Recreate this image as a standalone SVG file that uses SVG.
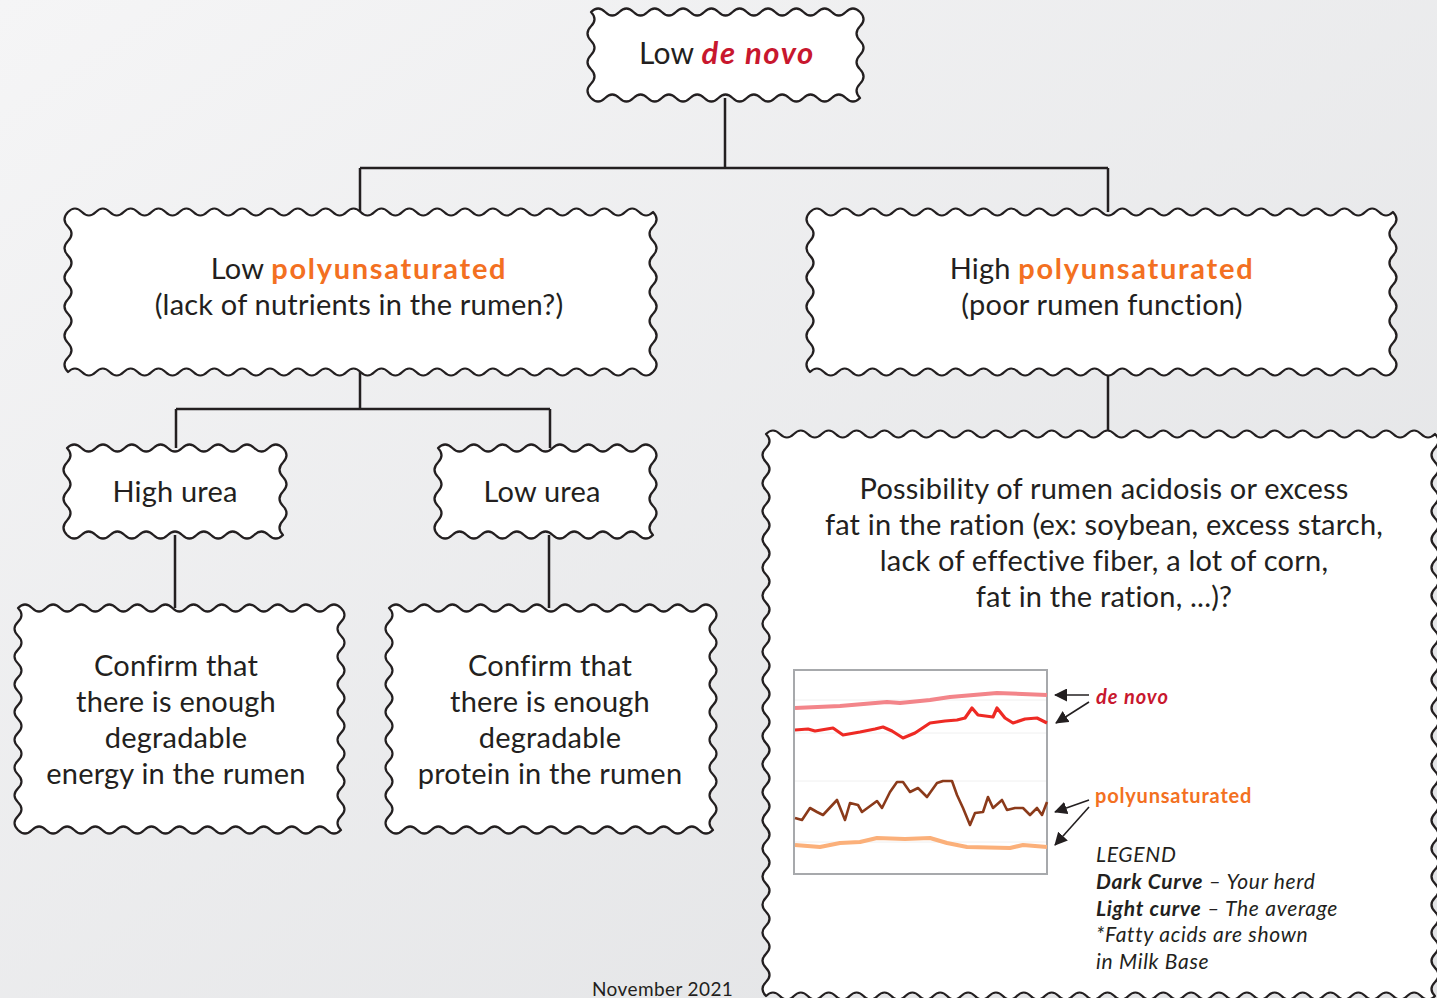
<svg xmlns="http://www.w3.org/2000/svg" width="1437" height="998" viewBox="0 0 1437 998">
<defs>
<linearGradient id="bg" x1="0" y1="0" x2="1" y2="1">
<stop offset="0" stop-color="#f5f5f6"/>
<stop offset="1" stop-color="#e1e2e4"/>
</linearGradient>
<marker id="ah" markerUnits="userSpaceOnUse" markerWidth="13" markerHeight="13" viewBox="0 0 13 13" refX="12" refY="6.5" orient="auto">
<path d="M0,0 L13,6.5 L0,13 z" fill="#231f20"/>
</marker>
</defs>
<style>
.box{fill:#fff;stroke:#231f20;stroke-width:2.2;stroke-linejoin:round}
.conn{fill:none;stroke:#231f20;stroke-width:2.5}
.t{font-family:Lato,"Open Sans",sans-serif;font-size:29px;fill:#231f20;text-anchor:middle;letter-spacing:0.2px}
.red{fill:#c8172e;font-weight:bold;font-style:italic;letter-spacing:1.6px}
.org{fill:#f37021;font-weight:bold;letter-spacing:1.7px}
.lg{font-family:Lato,"Open Sans",sans-serif;font-size:21px;fill:#231f20;font-style:italic;letter-spacing:0.7px}
.arr{stroke:#231f20;stroke-width:1.6;fill:none;marker-end:url(#ah)}
.grid{stroke:#f0f0f0;stroke-width:1}
</style>
<rect width="1437" height="998" fill="url(#bg)"/>

<g id="connectors">
<path class="conn" d="M725,98 V168 M360,168 H1108 M360,168 V212 M1108,168 V212"/>
<path class="conn" d="M360,372 V409 M176,409 H550 M176,409 V448 M550,409 V448"/>
<path class="conn" d="M175,535 V608 M549,535 V608"/>
<path class="conn" d="M1108,372 V434"/>
</g>

<g id="node-low-denovo">
<path class="box" d="M591,12 q7.08,-7 14.16,0 t14.16,0 t14.16,0 t14.16,0 t14.16,0 t14.16,0 t14.16,0 t14.16,0 t14.16,0 t14.16,0 t14.16,0 t14.16,0 t14.16,0 t14.16,0 t14.16,0 t14.16,0 t14.16,0 t14.16,0 t14.16,0 q7,7.17 0,14.33 t0,14.33 t0,14.33 t0,14.33 t0,14.33 t0,14.33 q-7.08,7 -14.16,0 t-14.16,0 t-14.16,0 t-14.16,0 t-14.16,0 t-14.16,0 t-14.16,0 t-14.16,0 t-14.16,0 t-14.16,0 t-14.16,0 t-14.16,0 t-14.16,0 t-14.16,0 t-14.16,0 t-14.16,0 t-14.16,0 t-14.16,0 t-14.16,0 q-7,-7.17 0,-14.33 t0,-14.33 t0,-14.33 t0,-14.33 t0,-14.33 t0,-14.33 z"/>
<text class="t" x="727" y="64" style="font-size:30px">Low <tspan class="red" style="font-size:31px">de novo</tspan></text>
</g>

<g id="node-low-poly">
<path class="box" d="M68,212 q6.965,-7 13.93,0 t13.93,0 t13.93,0 t13.93,0 t13.93,0 t13.93,0 t13.93,0 t13.93,0 t13.93,0 t13.93,0 t13.93,0 t13.93,0 t13.93,0 t13.93,0 t13.93,0 t13.93,0 t13.93,0 t13.93,0 t13.93,0 t13.93,0 t13.93,0 t13.93,0 t13.93,0 t13.93,0 t13.93,0 t13.93,0 t13.93,0 t13.93,0 t13.93,0 t13.93,0 t13.93,0 t13.93,0 t13.93,0 t13.93,0 t13.93,0 t13.93,0 t13.93,0 t13.93,0 t13.93,0 t13.93,0 t13.93,0 t13.93,0 q7,7.27 0,14.545 t0,14.545 t0,14.545 t0,14.545 t0,14.545 t0,14.545 t0,14.545 t0,14.545 t0,14.545 t0,14.545 t0,14.545 q-6.965,7 -13.93,0 t-13.93,0 t-13.93,0 t-13.93,0 t-13.93,0 t-13.93,0 t-13.93,0 t-13.93,0 t-13.93,0 t-13.93,0 t-13.93,0 t-13.93,0 t-13.93,0 t-13.93,0 t-13.93,0 t-13.93,0 t-13.93,0 t-13.93,0 t-13.93,0 t-13.93,0 t-13.93,0 t-13.93,0 t-13.93,0 t-13.93,0 t-13.93,0 t-13.93,0 t-13.93,0 t-13.93,0 t-13.93,0 t-13.93,0 t-13.93,0 t-13.93,0 t-13.93,0 t-13.93,0 t-13.93,0 t-13.93,0 t-13.93,0 t-13.93,0 t-13.93,0 t-13.93,0 t-13.93,0 t-13.93,0 q-7,-7.27 0,-14.545 t0,-14.545 t0,-14.545 t0,-14.545 t0,-14.545 t0,-14.545 t0,-14.545 t0,-14.545 t0,-14.545 t0,-14.545 t0,-14.545 z"/>
<text class="t" x="359" y="279">Low <tspan class="org">polyunsaturated</tspan></text>
<text class="t" x="359" y="315">(lack of nutrients in the rumen?)</text>
</g>

<g id="node-high-poly">
<path class="box" d="M810,212 q6.94,-7 13.88,0 t13.88,0 t13.88,0 t13.88,0 t13.88,0 t13.88,0 t13.88,0 t13.88,0 t13.88,0 t13.88,0 t13.88,0 t13.88,0 t13.88,0 t13.88,0 t13.88,0 t13.88,0 t13.88,0 t13.88,0 t13.88,0 t13.88,0 t13.88,0 t13.88,0 t13.88,0 t13.88,0 t13.88,0 t13.88,0 t13.88,0 t13.88,0 t13.88,0 t13.88,0 t13.88,0 t13.88,0 t13.88,0 t13.88,0 t13.88,0 t13.88,0 t13.88,0 t13.88,0 t13.88,0 t13.88,0 t13.88,0 t13.88,0 q7,7.27 0,14.545 t0,14.545 t0,14.545 t0,14.545 t0,14.545 t0,14.545 t0,14.545 t0,14.545 t0,14.545 t0,14.545 t0,14.545 q-6.94,7 -13.88,0 t-13.88,0 t-13.88,0 t-13.88,0 t-13.88,0 t-13.88,0 t-13.88,0 t-13.88,0 t-13.88,0 t-13.88,0 t-13.88,0 t-13.88,0 t-13.88,0 t-13.88,0 t-13.88,0 t-13.88,0 t-13.88,0 t-13.88,0 t-13.88,0 t-13.88,0 t-13.88,0 t-13.88,0 t-13.88,0 t-13.88,0 t-13.88,0 t-13.88,0 t-13.88,0 t-13.88,0 t-13.88,0 t-13.88,0 t-13.88,0 t-13.88,0 t-13.88,0 t-13.88,0 t-13.88,0 t-13.88,0 t-13.88,0 t-13.88,0 t-13.88,0 t-13.88,0 t-13.88,0 t-13.88,0 q-7,-7.27 0,-14.545 t0,-14.545 t0,-14.545 t0,-14.545 t0,-14.545 t0,-14.545 t0,-14.545 t0,-14.545 t0,-14.545 t0,-14.545 t0,-14.545 z"/>
<text class="t" x="1102" y="279">High <tspan class="org">polyunsaturated</tspan></text>
<text class="t" x="1102" y="315">(poor rumen function)</text>
</g>

<g id="node-high-urea">
<path class="box" d="M67,448 q7.2,-7 14.4,0 t14.4,0 t14.4,0 t14.4,0 t14.4,0 t14.4,0 t14.4,0 t14.4,0 t14.4,0 t14.4,0 t14.4,0 t14.4,0 t14.4,0 t14.4,0 t14.4,0 q7,7.25 0,14.5 t0,14.5 t0,14.5 t0,14.5 t0,14.5 t0,14.5 q-7.2,7 -14.4,0 t-14.4,0 t-14.4,0 t-14.4,0 t-14.4,0 t-14.4,0 t-14.4,0 t-14.4,0 t-14.4,0 t-14.4,0 t-14.4,0 t-14.4,0 t-14.4,0 t-14.4,0 t-14.4,0 q-7,-7.25 0,-14.5 t0,-14.5 t0,-14.5 t0,-14.5 t0,-14.5 t0,-14.5 z"/>
<text class="t" x="175" y="502">High urea</text>
</g>

<g id="node-low-urea">
<path class="box" d="M438,448 q7.167,-7 14.333,0 t14.333,0 t14.333,0 t14.333,0 t14.333,0 t14.333,0 t14.333,0 t14.333,0 t14.333,0 t14.333,0 t14.333,0 t14.333,0 t14.333,0 t14.333,0 t14.333,0 q7,7.25 0,14.5 t0,14.5 t0,14.5 t0,14.5 t0,14.5 t0,14.5 q-7.167,7 -14.333,0 t-14.333,0 t-14.333,0 t-14.333,0 t-14.333,0 t-14.333,0 t-14.333,0 t-14.333,0 t-14.333,0 t-14.333,0 t-14.333,0 t-14.333,0 t-14.333,0 t-14.333,0 t-14.333,0 q-7,-7.25 0,-14.5 t0,-14.5 t0,-14.5 t0,-14.5 t0,-14.5 t0,-14.5 z"/>
<text class="t" x="542" y="502">Low urea</text>
</g>

<g id="node-energy">
<path class="box" d="M18,608 q7.02,-7 14.043,0 t14.043,0 t14.043,0 t14.043,0 t14.043,0 t14.043,0 t14.043,0 t14.043,0 t14.043,0 t14.043,0 t14.043,0 t14.043,0 t14.043,0 t14.043,0 t14.043,0 t14.043,0 t14.043,0 t14.043,0 t14.043,0 t14.043,0 t14.043,0 t14.043,0 t14.043,0 q7,6.94 0,13.875 t0,13.875 t0,13.875 t0,13.875 t0,13.875 t0,13.875 t0,13.875 t0,13.875 t0,13.875 t0,13.875 t0,13.875 t0,13.875 t0,13.875 t0,13.875 t0,13.875 t0,13.875 q-7.02,7 -14.043,0 t-14.043,0 t-14.043,0 t-14.043,0 t-14.043,0 t-14.043,0 t-14.043,0 t-14.043,0 t-14.043,0 t-14.043,0 t-14.043,0 t-14.043,0 t-14.043,0 t-14.043,0 t-14.043,0 t-14.043,0 t-14.043,0 t-14.043,0 t-14.043,0 t-14.043,0 t-14.043,0 t-14.043,0 t-14.043,0 q-7,-6.94 0,-13.875 t0,-13.875 t0,-13.875 t0,-13.875 t0,-13.875 t0,-13.875 t0,-13.875 t0,-13.875 t0,-13.875 t0,-13.875 t0,-13.875 t0,-13.875 t0,-13.875 t0,-13.875 t0,-13.875 t0,-13.875 z"/>
<text class="t" x="176" y="676">Confirm that</text>
<text class="t" x="176" y="712">there is enough</text>
<text class="t" x="176" y="748">degradable</text>
<text class="t" x="176" y="784">energy in the rumen</text>
</g>

<g id="node-protein">
<path class="box" d="M389,608 q7.04,-7 14.087,0 t14.087,0 t14.087,0 t14.087,0 t14.087,0 t14.087,0 t14.087,0 t14.087,0 t14.087,0 t14.087,0 t14.087,0 t14.087,0 t14.087,0 t14.087,0 t14.087,0 t14.087,0 t14.087,0 t14.087,0 t14.087,0 t14.087,0 t14.087,0 t14.087,0 t14.087,0 q7,6.94 0,13.875 t0,13.875 t0,13.875 t0,13.875 t0,13.875 t0,13.875 t0,13.875 t0,13.875 t0,13.875 t0,13.875 t0,13.875 t0,13.875 t0,13.875 t0,13.875 t0,13.875 t0,13.875 q-7.04,7 -14.087,0 t-14.087,0 t-14.087,0 t-14.087,0 t-14.087,0 t-14.087,0 t-14.087,0 t-14.087,0 t-14.087,0 t-14.087,0 t-14.087,0 t-14.087,0 t-14.087,0 t-14.087,0 t-14.087,0 t-14.087,0 t-14.087,0 t-14.087,0 t-14.087,0 t-14.087,0 t-14.087,0 t-14.087,0 t-14.087,0 q-7,-6.94 0,-13.875 t0,-13.875 t0,-13.875 t0,-13.875 t0,-13.875 t0,-13.875 t0,-13.875 t0,-13.875 t0,-13.875 t0,-13.875 t0,-13.875 t0,-13.875 t0,-13.875 t0,-13.875 t0,-13.875 t0,-13.875 z"/>
<text class="t" x="550" y="676">Confirm that</text>
<text class="t" x="550" y="712">there is enough</text>
<text class="t" x="550" y="748">degradable</text>
<text class="t" x="550" y="784">protein in the rumen</text>
</g>

<g id="node-acidosis">
<path class="box" d="M766,434 q6.97,-7 13.9375,0 t13.9375,0 t13.9375,0 t13.9375,0 t13.9375,0 t13.9375,0 t13.9375,0 t13.9375,0 t13.9375,0 t13.9375,0 t13.9375,0 t13.9375,0 t13.9375,0 t13.9375,0 t13.9375,0 t13.9375,0 t13.9375,0 t13.9375,0 t13.9375,0 t13.9375,0 t13.9375,0 t13.9375,0 t13.9375,0 t13.9375,0 t13.9375,0 t13.9375,0 t13.9375,0 t13.9375,0 t13.9375,0 t13.9375,0 t13.9375,0 t13.9375,0 t13.9375,0 t13.9375,0 t13.9375,0 t13.9375,0 t13.9375,0 t13.9375,0 t13.9375,0 t13.9375,0 t13.9375,0 t13.9375,0 t13.9375,0 t13.9375,0 t13.9375,0 t13.9375,0 t13.9375,0 t13.9375,0 q7,7.025 0,14.05 t0,14.05 t0,14.05 t0,14.05 t0,14.05 t0,14.05 t0,14.05 t0,14.05 t0,14.05 t0,14.05 t0,14.05 t0,14.05 t0,14.05 t0,14.05 t0,14.05 t0,14.05 t0,14.05 t0,14.05 t0,14.05 t0,14.05 t0,14.05 t0,14.05 t0,14.05 t0,14.05 t0,14.05 t0,14.05 t0,14.05 t0,14.05 t0,14.05 t0,14.05 t0,14.05 t0,14.05 t0,14.05 t0,14.05 t0,14.05 t0,14.05 t0,14.05 t0,14.05 t0,14.05 t0,14.05 q-6.97,7 -13.9375,0 t-13.9375,0 t-13.9375,0 t-13.9375,0 t-13.9375,0 t-13.9375,0 t-13.9375,0 t-13.9375,0 t-13.9375,0 t-13.9375,0 t-13.9375,0 t-13.9375,0 t-13.9375,0 t-13.9375,0 t-13.9375,0 t-13.9375,0 t-13.9375,0 t-13.9375,0 t-13.9375,0 t-13.9375,0 t-13.9375,0 t-13.9375,0 t-13.9375,0 t-13.9375,0 t-13.9375,0 t-13.9375,0 t-13.9375,0 t-13.9375,0 t-13.9375,0 t-13.9375,0 t-13.9375,0 t-13.9375,0 t-13.9375,0 t-13.9375,0 t-13.9375,0 t-13.9375,0 t-13.9375,0 t-13.9375,0 t-13.9375,0 t-13.9375,0 t-13.9375,0 t-13.9375,0 t-13.9375,0 t-13.9375,0 t-13.9375,0 t-13.9375,0 t-13.9375,0 t-13.9375,0 q-7,-7.025 0,-14.05 t0,-14.05 t0,-14.05 t0,-14.05 t0,-14.05 t0,-14.05 t0,-14.05 t0,-14.05 t0,-14.05 t0,-14.05 t0,-14.05 t0,-14.05 t0,-14.05 t0,-14.05 t0,-14.05 t0,-14.05 t0,-14.05 t0,-14.05 t0,-14.05 t0,-14.05 t0,-14.05 t0,-14.05 t0,-14.05 t0,-14.05 t0,-14.05 t0,-14.05 t0,-14.05 t0,-14.05 t0,-14.05 t0,-14.05 t0,-14.05 t0,-14.05 t0,-14.05 t0,-14.05 t0,-14.05 t0,-14.05 t0,-14.05 t0,-14.05 t0,-14.05 t0,-14.05 z"/>
<text class="t" x="1104" y="499">Possibility of rumen acidosis or excess</text>
<text class="t" x="1104" y="535">fat in the ration (ex: soybean, excess starch,</text>
<text class="t" x="1104" y="571">lack of effective fiber, a lot of corn,</text>
<text class="t" x="1104" y="607">fat in the ration, ...)?</text>

<g id="chart">
<rect x="794" y="670" width="253" height="204" fill="#fff" stroke="#a7a9ac" stroke-width="2"/>
<line class="grid" x1="795" y1="700" x2="1046" y2="700"/>
<line class="grid" x1="795" y1="733" x2="1046" y2="733"/>
<line class="grid" x1="795" y1="781" x2="1046" y2="781"/>
<line class="grid" x1="795" y1="842" x2="1046" y2="842"/>
<polyline fill="none" stroke="#f3858a" stroke-width="4" stroke-linejoin="round" points="795,708 840,706 887,702 900,703 930,700 950,697 997,693 1047,695"/>
<polyline fill="none" stroke="#ee2a24" stroke-width="3.2" stroke-linejoin="round" points="795,730 808,729 815,731 833,728 843,735 860,732 875,729 883,727 892,731 903,738 915,733 930,723 945,721 957,720 965,718 972,708 978,715 993,717 997,708 1005,718 1013,723 1025,719 1037,718 1047,723"/>
<polyline fill="none" stroke="#8b3a1a" stroke-width="2.6" stroke-linejoin="round" points="795,818 802,820 810,808 817,812 823,815 837,800 845,820 850,803 858,805 862,812 877,801 882,808 890,792 897,782 903,782 910,792 918,788 927,797 937,783 943,781 952,781 957,795 963,808 970,825 975,813 983,812 988,797 993,808 1002,800 1007,810 1015,808 1023,808 1030,815 1037,808 1042,815 1047,802"/>
<polyline fill="none" stroke="#fbb07a" stroke-width="4" stroke-linejoin="round" points="795,845 820,847 840,843 860,842 877,838 905,839 930,838 947,843 967,847 1010,848 1023,845 1047,847"/>
</g>

<line class="arr" x1="1089" y1="695" x2="1055" y2="695"/>
<line class="arr" x1="1089" y1="702" x2="1056" y2="723"/>
<line class="arr" x1="1089" y1="800" x2="1055" y2="812"/>
<line class="arr" x1="1089" y1="807" x2="1055" y2="845"/>
<text x="1096" y="704" style="font-family:Lato,'Open Sans',sans-serif;font-size:20px;font-weight:bold;font-style:italic;fill:#c8172e;letter-spacing:1px">de novo</text>
<text x="1095" y="803" style="font-family:Lato,'Open Sans',sans-serif;font-size:20px;font-weight:bold;fill:#f37021;letter-spacing:0.8px">polyunsaturated</text>
<text class="lg" x="1096" y="862">LEGEND</text>
<text class="lg" x="1096" y="889"><tspan font-weight="bold">Dark Curve</tspan> – Your herd</text>
<text class="lg" x="1096" y="916"><tspan font-weight="bold">Light curve</tspan> – The average</text>
<text class="lg" x="1096" y="942">*Fatty acids are shown</text>
<text class="lg" x="1096" y="969">in Milk Base</text>
</g>

<text x="592" y="996" style="font-family:Lato,'Open Sans',sans-serif;font-size:19px;fill:#231f20;letter-spacing:0.4px">November 2021</text>
</svg>
